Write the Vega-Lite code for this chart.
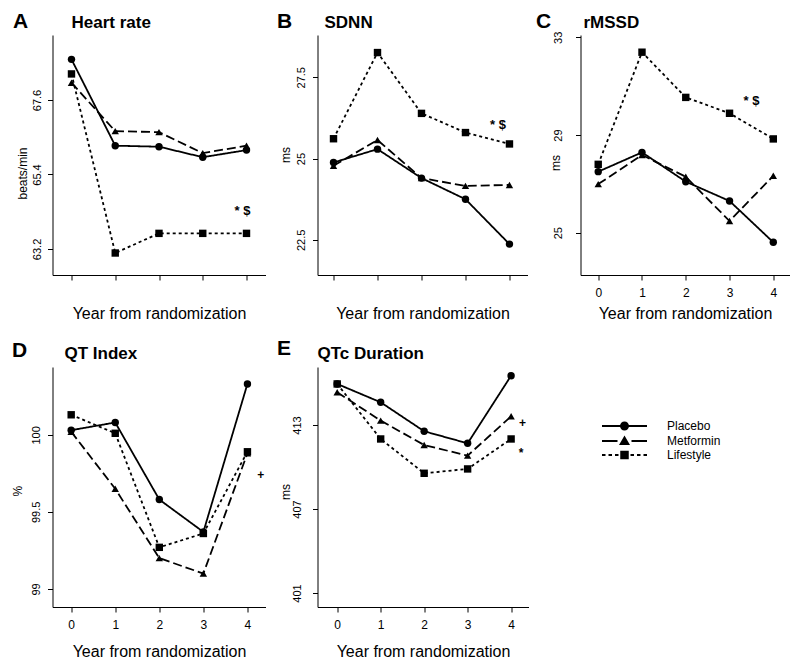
{
  "$schema": "https://vega.github.io/schema/vega-lite/v6.json",
  "background": "white",
  "padding": {"left": 10.5, "top": 10, "right": 5, "bottom": 5},
  "datasets": {
    "hrv": [
      {"panel":"A","group":"Placebo","year":0,"value":68.80},
      {"panel":"A","group":"Placebo","year":1,"value":66.25},
      {"panel":"A","group":"Placebo","year":2,"value":66.22},
      {"panel":"A","group":"Placebo","year":3,"value":65.91},
      {"panel":"A","group":"Placebo","year":4,"value":66.12},
      {"panel":"A","group":"Metformin","year":0,"value":68.11},
      {"panel":"A","group":"Metformin","year":1,"value":66.68},
      {"panel":"A","group":"Metformin","year":2,"value":66.65},
      {"panel":"A","group":"Metformin","year":3,"value":66.03},
      {"panel":"A","group":"Metformin","year":4,"value":66.25},
      {"panel":"A","group":"Lifestyle","year":0,"value":68.37},
      {"panel":"A","group":"Lifestyle","year":1,"value":63.08},
      {"panel":"A","group":"Lifestyle","year":2,"value":63.66},
      {"panel":"A","group":"Lifestyle","year":3,"value":63.66},
      {"panel":"A","group":"Lifestyle","year":4,"value":63.66},
      {"panel":"B","group":"Placebo","year":0,"value":24.88},
      {"panel":"B","group":"Placebo","year":1,"value":25.29},
      {"panel":"B","group":"Placebo","year":2,"value":24.40},
      {"panel":"B","group":"Placebo","year":3,"value":23.75},
      {"panel":"B","group":"Placebo","year":4,"value":22.37},
      {"panel":"B","group":"Metformin","year":0,"value":24.78},
      {"panel":"B","group":"Metformin","year":1,"value":25.57},
      {"panel":"B","group":"Metformin","year":2,"value":24.40},
      {"panel":"B","group":"Metformin","year":3,"value":24.16},
      {"panel":"B","group":"Metformin","year":4,"value":24.19},
      {"panel":"B","group":"Lifestyle","year":0,"value":25.61},
      {"panel":"B","group":"Lifestyle","year":1,"value":28.26},
      {"panel":"B","group":"Lifestyle","year":2,"value":26.39},
      {"panel":"B","group":"Lifestyle","year":3,"value":25.80},
      {"panel":"B","group":"Lifestyle","year":4,"value":25.45},
      {"panel":"C","group":"Placebo","year":0,"value":27.50},
      {"panel":"C","group":"Placebo","year":1,"value":28.29},
      {"panel":"C","group":"Placebo","year":2,"value":27.09},
      {"panel":"C","group":"Placebo","year":3,"value":26.30},
      {"panel":"C","group":"Placebo","year":4,"value":24.61},
      {"panel":"C","group":"Metformin","year":0,"value":26.99},
      {"panel":"C","group":"Metformin","year":1,"value":28.18},
      {"panel":"C","group":"Metformin","year":2,"value":27.29},
      {"panel":"C","group":"Metformin","year":3,"value":25.48},
      {"panel":"C","group":"Metformin","year":4,"value":27.33},
      {"panel":"C","group":"Lifestyle","year":0,"value":27.80},
      {"panel":"C","group":"Lifestyle","year":1,"value":32.39},
      {"panel":"C","group":"Lifestyle","year":2,"value":30.54},
      {"panel":"C","group":"Lifestyle","year":3,"value":29.89},
      {"panel":"C","group":"Lifestyle","year":4,"value":28.84},
      {"panel":"D","group":"Placebo","year":0,"value":100.03},
      {"panel":"D","group":"Placebo","year":1,"value":100.08},
      {"panel":"D","group":"Placebo","year":2,"value":99.58},
      {"panel":"D","group":"Placebo","year":3,"value":99.37},
      {"panel":"D","group":"Placebo","year":4,"value":100.33},
      {"panel":"D","group":"Metformin","year":0,"value":100.02},
      {"panel":"D","group":"Metformin","year":1,"value":99.65},
      {"panel":"D","group":"Metformin","year":2,"value":99.20},
      {"panel":"D","group":"Metformin","year":3,"value":99.10},
      {"panel":"D","group":"Metformin","year":4,"value":99.88},
      {"panel":"D","group":"Lifestyle","year":0,"value":100.13},
      {"panel":"D","group":"Lifestyle","year":1,"value":100.01},
      {"panel":"D","group":"Lifestyle","year":2,"value":99.27},
      {"panel":"D","group":"Lifestyle","year":3,"value":99.36},
      {"panel":"D","group":"Lifestyle","year":4,"value":99.89},
      {"panel":"E","group":"Placebo","year":0,"value":415.93},
      {"panel":"E","group":"Placebo","year":1,"value":414.62},
      {"panel":"E","group":"Placebo","year":2,"value":412.55},
      {"panel":"E","group":"Placebo","year":3,"value":411.69},
      {"panel":"E","group":"Placebo","year":4,"value":416.52},
      {"panel":"E","group":"Metformin","year":0,"value":415.34},
      {"panel":"E","group":"Metformin","year":1,"value":413.31},
      {"panel":"E","group":"Metformin","year":2,"value":411.57},
      {"panel":"E","group":"Metformin","year":3,"value":410.81},
      {"panel":"E","group":"Metformin","year":4,"value":413.62},
      {"panel":"E","group":"Lifestyle","year":0,"value":415.93},
      {"panel":"E","group":"Lifestyle","year":1,"value":412.00},
      {"panel":"E","group":"Lifestyle","year":2,"value":409.55},
      {"panel":"E","group":"Lifestyle","year":3,"value":409.86},
      {"panel":"E","group":"Lifestyle","year":4,"value":412.00}
    ],
    "notes": [
      {"panel":"A","year":3.91,"value":64.33,"label":"* $"},
      {"panel":"B","year":3.74,"value":26.03,"label":"* $"},
      {"panel":"C","year":3.5,"value":30.41,"label":"* $"},
      {"panel":"D","year":4.3,"value":99.74,"label":"+"},
      {"panel":"E","year":4.26,"value":413.12,"label":"+"},
      {"panel":"E","year":4.23,"value":411.0,"label":"*"}
    ]
  },
  "concat": [
    {
      "width": 213, "height": 240,
      "title": {"text": "Heart rate", "dx": 19},
      "resolve": {"axis": {"x": "independent"}},
      "layer": [
        {"data": {"name": "hrv"}, "transform": [{"filter": "datum.panel == 'A'"}],
         "mark": {"type": "line", "color": "black", "strokeWidth": 1.8},
         "encoding": {
           "x": {"field": "year", "type": "quantitative", "scale": {"domain": [-0.434, 4.434], "nice": false, "zero": false}, "axis": {"orient": "bottom", "values": [0,1,2,3,4], "labels": false, "title": "Year from randomization"}},
           "y": {"field": "value", "type": "quantitative", "scale": {"domain": [62.43, 69.52], "nice": false, "zero": false}, "axis": {"values": [63.2, 65.4, 67.6], "format": ".1f", "title": "beats/min", "labelPadding": 10, "titleX": -30, "titleY": 138}},
           "strokeDash": {"field": "group", "type": "nominal", "scale": {"domain": ["Placebo","Metformin","Lifestyle"], "range": [[1,0],[9,4],[3,3]]}, "legend": null}
         }},
        {"data": {"name": "hrv"}, "transform": [{"filter": "datum.panel == 'A'"}],
         "mark": {"type": "point", "filled": true, "color": "black", "size": 55, "opacity": 1},
         "encoding": {
           "x": {"field": "year", "type": "quantitative", "axis": {"orient": "top", "title": "A", "titleX": -40, "titleY": -8}},
           "y": {"field": "value", "type": "quantitative", "axis": {"values": [63.2, 65.4, 67.6], "format": ".1f", "title": "beats/min", "labelPadding": 10, "titleX": -30, "titleY": 138}},
           "shape": {"field": "group", "type": "nominal", "scale": {"domain": ["Placebo","Metformin","Lifestyle"], "range": ["circle","triangle-up","square"]}, "legend": null}
         }},
        {"data": {"name": "notes"}, "transform": [{"filter": "datum.panel == 'A'"}],
         "mark": {"type": "text", "fontWeight": "bold", "fontSize": 13, "color": "black"},
         "encoding": {
           "x": {"field": "year", "type": "quantitative", "axis": null},
           "y": {"field": "value", "type": "quantitative", "axis": {"values": [63.2, 65.4, 67.6], "format": ".1f", "title": "beats/min", "labelPadding": 10, "titleX": -30, "titleY": 138}},
           "text": {"field": "label"}
         }}
      ]
    },
    {
      "width": 210, "height": 240,
      "title": {"text": "SDNN", "dx": 7},
      "resolve": {"axis": {"x": "independent"}},
      "layer": [
        {"data": {"name": "hrv"}, "transform": [{"filter": "datum.panel == 'B'"}],
         "mark": {"type": "line", "color": "black", "strokeWidth": 1.8},
         "encoding": {
           "x": {"field": "year", "type": "quantitative", "scale": {"domain": [-0.364, 4.41], "nice": false, "zero": false}, "axis": {"orient": "bottom", "values": [0,1,2,3,4], "labels": false, "title": "Year from randomization"}},
           "y": {"field": "value", "type": "quantitative", "scale": {"domain": [21.42, 28.80], "nice": false, "zero": false}, "axis": {"values": [22.5, 25, 27.5], "labelExpr": "'' + datum.value", "title": "ms", "labelPadding": 11, "titleX": -32, "titleY": 119.5}},
           "strokeDash": {"field": "group", "type": "nominal", "scale": {"domain": ["Placebo","Metformin","Lifestyle"], "range": [[1,0],[9,4],[3,3]]}, "legend": null}
         }},
        {"data": {"name": "hrv"}, "transform": [{"filter": "datum.panel == 'B'"}],
         "mark": {"type": "point", "filled": true, "color": "black", "size": 55, "opacity": 1},
         "encoding": {
           "x": {"field": "year", "type": "quantitative", "axis": {"orient": "top", "title": "B", "titleX": -41, "titleY": -8}},
           "y": {"field": "value", "type": "quantitative", "axis": {"values": [22.5, 25, 27.5], "labelExpr": "'' + datum.value", "title": "ms", "labelPadding": 11, "titleX": -32, "titleY": 119.5}},
           "shape": {"field": "group", "type": "nominal", "scale": {"domain": ["Placebo","Metformin","Lifestyle"], "range": ["circle","triangle-up","square"]}, "legend": null}
         }},
        {"data": {"name": "notes"}, "transform": [{"filter": "datum.panel == 'B'"}],
         "mark": {"type": "text", "fontWeight": "bold", "fontSize": 13, "color": "black"},
         "encoding": {
           "x": {"field": "year", "type": "quantitative", "axis": null},
           "y": {"field": "value", "type": "quantitative", "axis": {"values": [22.5, 25, 27.5], "labelExpr": "'' + datum.value", "title": "ms", "labelPadding": 11, "titleX": -32, "titleY": 119.5}},
           "text": {"field": "label"}
         }}
      ]
    },
    {
      "width": 209, "height": 240,
      "title": {"text": "rMSSD", "dx": 3},
      "resolve": {"axis": {"x": "independent"}},
      "layer": [
        {"data": {"name": "hrv"}, "transform": [{"filter": "datum.panel == 'C'"}],
         "mark": {"type": "line", "color": "black", "strokeWidth": 1.8},
         "encoding": {
           "x": {"field": "year", "type": "quantitative", "scale": {"domain": [-0.405, 4.37], "nice": false, "zero": false}, "axis": {"orient": "bottom", "values": [0,1,2,3,4], "title": "Year from randomization"}},
           "y": {"field": "value", "type": "quantitative", "scale": {"domain": [23.27, 33.094], "nice": false, "zero": false}, "axis": {"values": [25, 29, 33], "title": "ms", "labelPadding": 17.5, "titleX": -25, "titleY": 127.5}},
           "strokeDash": {"field": "group", "type": "nominal", "scale": {"domain": ["Placebo","Metformin","Lifestyle"], "range": [[1,0],[9,4],[3,3]]}, "legend": null}
         }},
        {"data": {"name": "hrv"}, "transform": [{"filter": "datum.panel == 'C'"}],
         "mark": {"type": "point", "filled": true, "color": "black", "size": 55, "opacity": 1},
         "encoding": {
           "x": {"field": "year", "type": "quantitative", "axis": {"orient": "top", "title": "C", "titleX": -45, "titleY": -8}},
           "y": {"field": "value", "type": "quantitative", "axis": {"values": [25, 29, 33], "title": "ms", "labelPadding": 17.5, "titleX": -25, "titleY": 127.5}},
           "shape": {"field": "group", "type": "nominal", "scale": {"domain": ["Placebo","Metformin","Lifestyle"], "range": ["circle","triangle-up","square"]}, "legend": null}
         }},
        {"data": {"name": "notes"}, "transform": [{"filter": "datum.panel == 'C'"}],
         "mark": {"type": "text", "fontWeight": "bold", "fontSize": 13, "color": "black"},
         "encoding": {
           "x": {"field": "year", "type": "quantitative", "axis": null},
           "y": {"field": "value", "type": "quantitative", "axis": {"values": [25, 29, 33], "title": "ms", "labelPadding": 17.5, "titleX": -25, "titleY": 127.5}},
           "text": {"field": "label"}
         }}
      ]
    },
    {
      "width": 213, "height": 240,
      "title": {"text": "QT Index", "dx": 12, "offset": -24},
      "resolve": {"axis": {"x": "independent"}},
      "layer": [
        {"data": {"name": "hrv"}, "transform": [{"filter": "datum.panel == 'D'"}],
         "mark": {"type": "line", "color": "black", "strokeWidth": 1.8},
         "encoding": {
           "x": {"field": "year", "type": "quantitative", "scale": {"domain": [-0.424, 4.41], "nice": false, "zero": false}, "axis": {"orient": "bottom", "values": [0,1,2,3,4], "title": "Year from randomization", "titleY": 49.5}},
           "y": {"field": "value", "type": "quantitative", "scale": {"domain": [98.883, 100.44], "nice": false, "zero": false}, "axis": {"values": [99, 99.5, 100], "labelExpr": "'' + datum.value", "title": "%", "labelPadding": 11.5, "titleX": -35.5, "titleY": 123.7}},
           "strokeDash": {"field": "group", "type": "nominal", "scale": {"domain": ["Placebo","Metformin","Lifestyle"], "range": [[1,0],[9,4],[3,3]]}, "legend": null}
         }},
        {"data": {"name": "hrv"}, "transform": [{"filter": "datum.panel == 'D'"}],
         "mark": {"type": "point", "filled": true, "color": "black", "size": 55, "opacity": 1},
         "encoding": {
           "x": {"field": "year", "type": "quantitative", "axis": {"orient": "top", "title": "D", "titleX": -41, "titleY": -11}},
           "y": {"field": "value", "type": "quantitative", "axis": {"values": [99, 99.5, 100], "labelExpr": "'' + datum.value", "title": "%", "labelPadding": 11.5, "titleX": -35.5, "titleY": 123.7}},
           "shape": {"field": "group", "type": "nominal", "scale": {"domain": ["Placebo","Metformin","Lifestyle"], "range": ["circle","triangle-up","square"]}, "legend": null}
         }},
        {"data": {"name": "notes"}, "transform": [{"filter": "datum.panel == 'D'"}],
         "mark": {"type": "text", "fontWeight": "bold", "fontSize": 12, "color": "black"},
         "encoding": {
           "x": {"field": "year", "type": "quantitative", "axis": null},
           "y": {"field": "value", "type": "quantitative", "axis": {"values": [99, 99.5, 100], "labelExpr": "'' + datum.value", "title": "%", "labelPadding": 11.5, "titleX": -35.5, "titleY": 123.7}},
           "text": {"field": "label"}
         }}
      ]
    },
    {
      "width": 211, "height": 240,
      "title": {"text": "QTc Duration", "dx": 0, "offset": -25},
      "resolve": {"axis": {"x": "independent"}, "scale": {"shape": "independent"}},
      "layer": [
        {"data": {"name": "hrv"}, "transform": [{"filter": "datum.panel == 'E'"}],
         "mark": {"type": "line", "color": "black", "strokeWidth": 1.8},
         "encoding": {
           "x": {"field": "year", "type": "quantitative", "scale": {"domain": [-0.453, 4.40], "nice": false, "zero": false}, "axis": {"orient": "bottom", "values": [0,1,2,3,4], "title": "Year from randomization", "titleY": 49.5}},
           "y": {"field": "value", "type": "quantitative", "scale": {"domain": [400, 417.14], "nice": false, "zero": false}, "axis": {"values": [401, 407, 413], "title": "ms", "labelPadding": 15.5, "titleX": -32, "titleY": 124.5}},
           "strokeDash": {"field": "group", "type": "nominal", "scale": {"domain": ["Placebo","Metformin","Lifestyle"], "range": [[1,0],[9,4],[3,3]]}, "legend": null}
         }},
        {"data": {"name": "hrv"}, "transform": [{"filter": "datum.panel == 'E'"}],
         "mark": {"type": "point", "filled": true, "color": "black", "size": 55, "opacity": 1},
         "encoding": {
           "x": {"field": "year", "type": "quantitative", "axis": {"orient": "top", "title": "E", "titleX": -41, "titleY": -12.5}},
           "y": {"field": "value", "type": "quantitative", "axis": {"values": [401, 407, 413], "title": "ms", "labelPadding": 15.5, "titleX": -32, "titleY": 124.5}},
           "shape": {"field": "group", "type": "nominal", "scale": {"domain": ["Placebo","Metformin","Lifestyle"], "range": ["circle","triangle-up","square"]}, "legend": null}
         }},
        {"data": {"name": "notes"}, "transform": [{"filter": "datum.panel == 'E'"}],
         "mark": {"type": "text", "fontWeight": "bold", "fontSize": 12, "color": "black"},
         "encoding": {
           "x": {"field": "year", "type": "quantitative", "axis": null},
           "y": {"field": "value", "type": "quantitative", "axis": {"values": [401, 407, 413], "title": "ms", "labelPadding": 15.5, "titleX": -32, "titleY": 124.5}},
           "text": {"field": "label"}
         }},
        {"data": {"name": "hrv"}, "transform": [{"filter": "datum.year < 0"}],
         "mark": {"type": "point", "filled": true, "fill": "black", "stroke": "black", "strokeWidth": 1.6, "size": 100, "opacity": 1},
         "encoding": {
           "shape": {"field": "group", "type": "nominal",
             "scale": {"domain": ["Placebo","Metformin","Lifestyle"],
                       "range": ["M-4.5,-0.18H4.5V0.18H-4.5ZM-0.9,0A0.9,0.9,0,1,1,0.9,0A0.9,0.9,0,1,1,-0.9,0Z",
                                 "M-4.5,-0.18H-1.4V0.18H-4.5ZM1.4,-0.18H4.5V0.18H1.4ZM0,-1.1L1.1,0.8L-1.1,0.8Z",
                                 "M-4.5,-0.18H-3.8V0.18H-4.5ZM-3.2,-0.18H-2.5V0.18H-3.2ZM-1.9,-0.18H-1.2V0.18H-1.9ZM1.2,-0.18H1.9V0.18H1.2ZM2.5,-0.18H3.2V0.18H2.5ZM3.8,-0.18H4.5V0.18H3.8ZM-0.85,-0.85H0.85V0.85H-0.85Z"]},
             "legend": {"orient": "none", "legendX": 301, "legendY": 53, "title": null, "labelFontSize": 12, "labelOffset": 36.5, "symbolSize": 100, "rowPadding": -2,
                        "symbolStrokeColor": "black", "symbolStrokeWidth": 1.6, "symbolFillColor": "black", "symbolOpacity": 1}}
         }}
      ]
    }
  ],
  "columns": 3,
  "bounds": "flush",
  "spacing": {"row": 92, "column": 52},
  "resolve": {"scale": {"shape": "independent", "strokeDash": "independent"}},
  "config": {
    "font": "Liberation Sans",
    "view": {"stroke": null},
    "axis": {"grid": false, "domainColor": "black", "tickColor": "black", "tickSize": 5, "labelColor": "black", "titleColor": "black", "domainWidth": 1, "tickWidth": 1},
    "axisY": {"labelAngle": -90, "labelAlign": "center", "labelBaseline": "middle", "labelFontSize": 11, "titleFontSize": 12, "titleFontWeight": "normal", "titleAngle": -90, "titleAlign": "center", "titleBaseline": "middle"},
    "axisBottom": {"labelFontSize": 12, "labelPadding": 7, "labelBaseline": "top", "labelAngle": 0, "titleFontSize": 16, "titleFontWeight": "normal", "titleBaseline": "alphabetic", "titleY": 43},
    "axisTop": {"domain": false, "ticks": false, "labels": false, "titleFontSize": 21, "titleFontWeight": "bold", "titleAlign": "left", "titleBaseline": "alphabetic", "titleAngle": 0},
    "title": {"anchor": "start", "frame": "group", "fontSize": 17, "fontWeight": "bold", "baseline": "alphabetic", "offset": -22, "color": "black"}
  }
}
